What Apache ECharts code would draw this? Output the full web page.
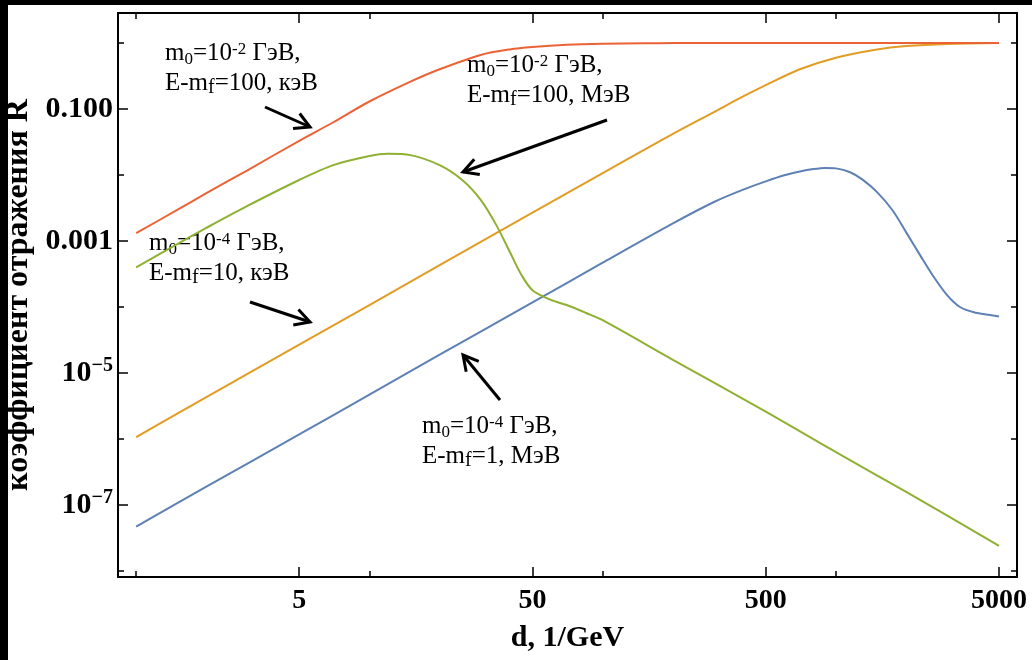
<!DOCTYPE html>
<html>
<head>
<meta charset="utf-8">
<script src="https://cdn.jsdelivr.net/npm/echarts@6/dist/echarts.min.js"></script>
<style>
  html, body { margin: 0; padding: 0; background: #fff; }
  #chart { width: 1032px; height: 660px; }
</style>
</head>
<body>
<div id="chart"></div>
<script>
// reflection coefficient R vs d (1/GeV)
let dBlue = [1, 2, 5, 10, 20, 50, 100, 200, 300, 400, 500, 600, 700, 800, 900, 1000, 1150, 1300, 1500, 1750, 2000, 2300, 2600, 3000, 3400, 3900, 4400, 5000];
let rBlue = [4.7e-8, 1.9e-7, 1.17e-6, 4.7e-6, 1.9e-5, 1.17e-4, 4.7e-4, 1.85e-3, 3.9e-3, 6.0e-3, 8.0e-3, 9.9e-3, 1.13e-2, 1.23e-2, 1.28e-2, 1.26e-2, 1.1e-2, 8.5e-3, 5.5e-3, 2.9e-3, 1.35e-3, 6.0e-4, 3.0e-4, 1.5e-4, 1.0e-4, 8.3e-5, 7.7e-5, 7.2e-5];

let dOrange = [1, 2, 5, 10, 20, 50, 100, 200, 300, 400, 500, 700, 1000, 1500, 2000, 3000, 5000];
let rOrange = [1.07e-6, 4.3e-6, 2.7e-5, 1.07e-4, 4.3e-4, 2.7e-3, 0.0107, 0.042, 0.09, 0.155, 0.23, 0.4, 0.6, 0.8, 0.9, 0.97, 1.0];

let dGreen = [1, 1.5, 2, 3, 5, 7, 10, 12, 15, 20, 25, 30, 35, 40, 45, 50, 60, 70, 85, 100, 200, 500, 1000, 2000, 5000];
let rGreen = [4.0e-4, 9.0e-4, 1.58e-3, 3.4e-3, 8.4e-3, 0.0141, 0.0194, 0.021, 0.020, 0.0141, 8.4e-3, 4.2e-3, 1.74e-3, 6.8e-4, 3.0e-4, 1.8e-4, 1.28e-4, 1.07e-4, 8.1e-5, 6.3e-5, 1.58e-5, 2.6e-6, 6.3e-7, 1.58e-7, 2.4e-8];

let dRed = [1, 1.5, 2, 3, 5, 7, 10, 15, 20, 30, 40, 50, 70, 100, 150, 200, 500, 1000, 2000, 5000];
let rRed = [1.32e-3, 2.95e-3, 5.3e-3, 0.0118, 0.033, 0.063, 0.13, 0.26, 0.40, 0.66, 0.8, 0.87, 0.94, 0.975, 0.99, 0.997, 1.0, 1.0, 1.0, 1.0];

// ticks (in d and R units)
let xMajor = [5, 50, 500, 5000];
let xMinor = [1, 10, 100, 1000];
let yMajor = [0.1, 0.001, 1e-5, 1e-7];
let yMinor = [1, 0.01, 1e-4, 1e-6, 1e-8];

let xRange = [0.836, 5970];
let yRange = [8.1e-9, 2.85];

const lg = Math.log10;
const serif = "'Liberation Serif', 'Times New Roman', serif";

function toPairs(ds, rs){
  return ds.map(function(d, i){ return [lg(d), lg(rs[i])]; });
}

function xAxisDef(pos, ticks, len, withLabel){
  return {
    type: 'value', position: pos, min: lg(xRange[0]), max: lg(xRange[1]),
    axisLine: { show: false, onZero: false },
    splitLine: { show: false },
    axisTick: { inside: true, length: len, customValues: ticks.map(lg), lineStyle: { color: '#000', width: 1.5 } },
    axisLabel: withLabel ? {
      customValues: ticks.map(lg), margin: 10,
      color: '#000', fontFamily: serif, fontWeight: 'bold', fontSize: 28,
      formatter: function(v){ return String(Math.round(Math.pow(10, v))); }
    } : { show: false }
  };
}

function yAxisDef(pos, ticks, len, withLabel){
  return {
    type: 'value', position: pos, min: lg(yRange[0]), max: lg(yRange[1]),
    axisLine: { show: false, onZero: false },
    splitLine: { show: false },
    axisTick: { inside: true, length: len, customValues: ticks.map(lg), lineStyle: { color: '#000', width: 1.5 } },
    axisLabel: withLabel ? {
      customValues: ticks.map(lg), margin: 5,
      formatter: function(v){
        let e = Math.round(v);
        if (e === -1) return '{n|0.100}';
        if (e === -3) return '{n|0.001}';
        return '{n|10}{s|\u2212' + (-e) + '}';
      },
      rich: {
        n: { color: '#000', fontFamily: serif, fontWeight: 'bold', fontSize: 30, lineHeight: 34 },
        s: { color: '#000', fontFamily: serif, fontWeight: 'bold', fontSize: 20, lineHeight: 20, verticalAlign: 'top' }
      }
    } : { show: false }
  };
}

function arrow(x1, y1, x2, y2){
  let a = Math.atan2(y2 - y1, x2 - x1), L = 17, w = 0.5;
  let p1 = [x2 - L * Math.cos(a - w), y2 - L * Math.sin(a - w)];
  let p2 = [x2 - L * Math.cos(a + w), y2 - L * Math.sin(a + w)];
  return [
    { type: 'line', shape: { x1: x1, y1: y1, x2: x2, y2: y2 }, style: { stroke: '#000', lineWidth: 3 } },
    { type: 'polyline', shape: { points: [p1, [x2, y2], p2] }, style: { stroke: '#000', lineWidth: 3, fill: null } }
  ];
}

const noteRich = {
  a: { fontFamily: serif, fontSize: 25, lineHeight: 30, fill: '#000' },
  sub: { fontFamily: serif, fontSize: 17, lineHeight: 10, verticalAlign: 'bottom', fill: '#000' },
  sup: { fontFamily: serif, fontSize: 17, lineHeight: 17, verticalAlign: 'top', padding: [3, 0, 0, 0], fill: '#000' },
  f: { fontFamily: serif, fontSize: 20, lineHeight: 24, verticalAlign: 'bottom', fill: '#000' }
};

function note(x, y, exp, line2a){
  return {
    type: 'text', x: x, y: y,
    style: {
      text: '{a|m}{sub|0}{a|=10}{sup|-' + exp + '}{a| \u0413\u044d\u0412,}\n{a|E-m}{f|f}{a|' + line2a + '}',
      rich: noteRich, verticalAlign: 'top', align: 'left'
    }
  };
}

let graphics = [
  { type: 'rect', shape: { x: 0, y: 0, width: 1032, height: 5 }, style: { fill: '#000' } },
  { type: 'rect', shape: { x: 0, y: 0, width: 8, height: 660 }, style: { fill: '#000' } },
  note(165, 38, 2, '=100, \u043a\u044d\u0412'),
  note(467, 50, 2, '=100, \u041c\u044d\u0412'),
  note(149, 228, 4, '=10, \u043a\u044d\u0412'),
  note(422, 411, 4, '=1, \u041c\u044d\u0412')
].concat(arrow(265, 107, 310, 127), arrow(607, 120, 463, 172), arrow(250, 302, 310, 322), arrow(500, 400, 463, 355));

let chart = echarts.init(document.getElementById('chart'));
let xAxes = [
  xAxisDef('bottom', xMajor, 10, true),
  xAxisDef('bottom', xMinor, 6, false),
  xAxisDef('top', xMajor, 10, false),
  xAxisDef('top', xMinor, 6, false)
];
xAxes[0].name = 'd, 1/GeV';
xAxes[0].nameLocation = 'middle';
xAxes[0].nameGap = 46;
xAxes[0].nameTextStyle = { color: '#000', fontFamily: serif, fontWeight: 'bold', fontSize: 30 };

let yAxes = [
  yAxisDef('left', yMajor, 10, true),
  yAxisDef('left', yMinor, 6, false),
  yAxisDef('right', yMajor, 10, false),
  yAxisDef('right', yMinor, 6, false)
];
yAxes[0].name = '\u043a\u043e\u044d\u0444\u0444\u0438\u0446\u0438\u0435\u043d\u0442 \u043e\u0442\u0440\u0430\u0436\u0435\u043d\u0438\u044f R';
yAxes[0].nameLocation = 'middle';
yAxes[0].nameGap = 81;
yAxes[0].nameTextStyle = { color: '#000', fontFamily: serif, fontWeight: 'bold', fontSize: 32 };

function line(name, color, data){
  return {
    name: name, type: 'line', data: data, showSymbol: false, symbol: 'none',
    smooth: 0.3, lineStyle: { color: color, width: 2 }, z: 3
  };
}

chart.setOption({
  animation: false,
  backgroundColor: '#fff',
  grid: {
    left: 118, right: 15, top: 13, bottom: 83,
    outerBoundsMode: 'none', containLabel: false,
    show: true, borderColor: '#000', borderWidth: 2, backgroundColor: '#fff'
  },
  xAxis: xAxes,
  yAxis: yAxes,
  series: [
    line('blue', '#5E81B5', toPairs(dBlue, rBlue)),
    line('orange', '#E19C24', toPairs(dOrange, rOrange)),
    line('green', '#8FB032', toPairs(dGreen, rGreen)),
    line('red', '#EB6235', toPairs(dRed, rRed))
  ],
  graphic: graphics
});
</script>
</body>
</html>
